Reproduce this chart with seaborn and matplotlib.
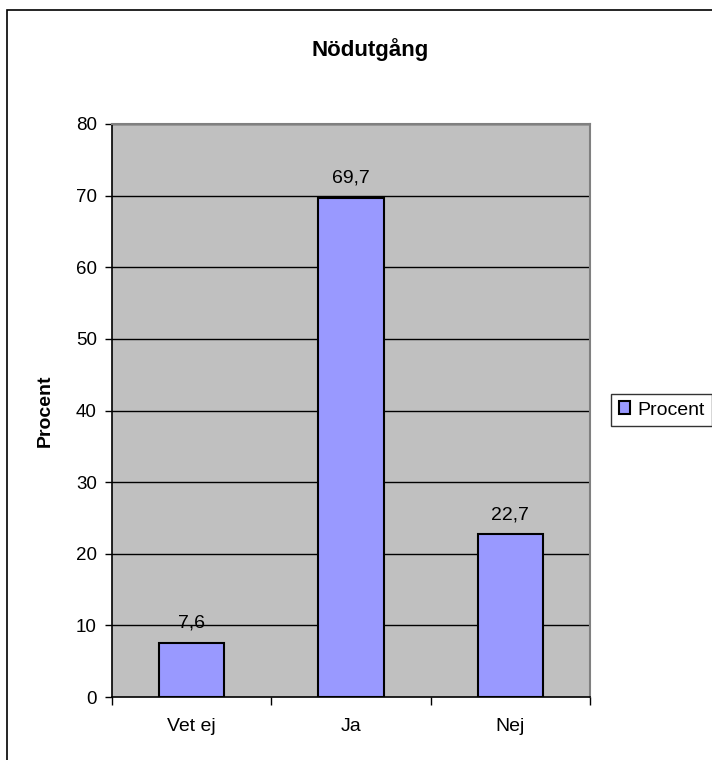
import matplotlib
matplotlib.use('Agg')
import matplotlib.pyplot as plt
import matplotlib.patches as patches
from matplotlib.ticker import FixedLocator
import seaborn as sns
import pandas as pd

categories = ['Vet ej', 'Ja', 'Nej']
values = [7.6, 69.7, 22.7]
yticks = [0, 10, 20, 30, 40, 50, 60, 70, 80]

sns.set_style('white')
plt.rcParams['font.family'] = ['Liberation Sans', 'DejaVu Sans']
plt.rcParams['text.color'] = 'black'
plt.rcParams['axes.labelcolor'] = 'black'
plt.rcParams['xtick.color'] = 'black'
plt.rcParams['ytick.color'] = 'black'

df = pd.DataFrame({'svar': categories, 'Procent': values})

fig = plt.figure(figsize=(7.12, 7.6), dpi=100)
fig.patch.set_facecolor('white')
ax = fig.add_axes([112 / 712, 63 / 760, 478 / 712, 573 / 760])

# outer chart border (runs off the right and bottom edge)
fig.patches.append(patches.Rectangle((7 / 712, -0.1), 1.2, 1.1 - 10 / 760, transform=fig.transFigure,
                                     fill=False, edgecolor='black', linewidth=1.2, zorder=0))

ax.set_facecolor('#C0C0C0')
for y in yticks[1:]:
    ax.axhline(y, color='black', linewidth=1, zorder=1)

sns.barplot(data=df, x='svar', y='Procent', color='#9999FF', edgecolor='black', linewidth=1.5,
            width=0.41, saturation=1, ax=ax, zorder=2, label='Procent')

ax.bar_label(ax.containers[0], labels=[f'{v:.1f}'.replace('.', ',') for v in values],
             padding=8, fontsize=14)

ax.set_ylim(0, 80)
ax.set_xlim(-0.5, 2.5)
ax.set_yticks(yticks)
ax.tick_params(axis='y', direction='out', length=5, width=1, labelsize=13.5, pad=6, left=True)
ax.tick_params(axis='x', which='major', length=0, labelsize=14, pad=15)
ax.xaxis.set_minor_locator(FixedLocator([-0.5, 0.5, 1.5, 2.5]))
ax.tick_params(axis='x', which='minor', direction='out', length=6, width=1, bottom=True)

ax.set_xlabel('')
ax.set_ylabel('Procent', fontsize=14, fontweight='bold')
ax.yaxis.set_label_coords(-0.121, 0.5)

for side in ['left', 'bottom']:
    ax.spines[side].set_color('black')
    ax.spines[side].set_linewidth(1.2)
for side in ['top', 'right']:
    ax.spines[side].set_color('#808080')
    ax.spines[side].set_linewidth(1.5)

fig.text(370 / 712, 1 - 50 / 760, 'Nödutgång', ha='center', va='center', fontsize=16, fontweight='bold')

ax.legend(loc='center left', bbox_to_anchor=(611 / 712, 1 - 410 / 760), bbox_transform=fig.transFigure,
          frameon=True, fancybox=False, edgecolor='black', fontsize=14, handlelength=0.6,
          handleheight=0.6, handletextpad=0.35, borderpad=0.4, borderaxespad=0)

fig.savefig('out.png', dpi=100)
